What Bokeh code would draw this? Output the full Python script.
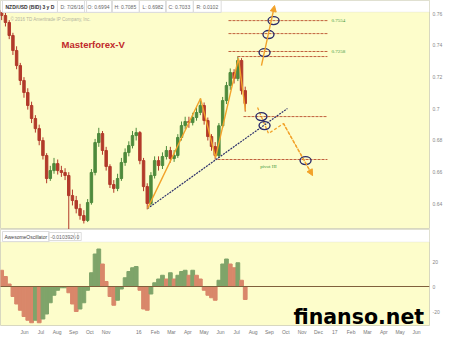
import pandas as pd
from bokeh.plotting import figure
from bokeh.layouts import column
from bokeh.models import Range1d, FixedTicker, Label, BoxAnnotation, Arrow, NormalHead, ColumnDataSource
from bokeh.embed import file_html
from bokeh.resources import INLINE

# ---------------- data (weekly) ----------------
week_start = "2015-04-19"
first_open = 0.7620
close = [0.7589, 0.7545, 0.7463, 0.7368, 0.7273, 0.7179, 0.7103, 0.7021, 0.6939, 0.6875,
         0.6800, 0.6705, 0.6560, 0.6610, 0.6654, 0.6610, 0.6598, 0.6579, 0.6452, 0.6421,
         0.6370, 0.6326, 0.6295, 0.6408, 0.6598, 0.6787, 0.6844, 0.6737, 0.6636, 0.6522,
         0.6497, 0.6560, 0.6661, 0.6724, 0.6768, 0.6831, 0.6850, 0.6673, 0.6509, 0.6402,
         0.6579, 0.6673, 0.6642, 0.6699, 0.6737, 0.6686, 0.6705, 0.6819, 0.6894, 0.6920,
         0.6913, 0.6945, 0.6977, 0.7021, 0.6926, 0.6825, 0.6762, 0.6705, 0.6893, 0.7052,
         0.7147, 0.7229, 0.7191, 0.7305, 0.7115, 0.7033]
high = [0.7650, 0.7610, 0.7560, 0.7480, 0.7395, 0.7290, 0.7200, 0.7130, 0.7045, 0.6960,
        0.6900, 0.6820, 0.6720, 0.6640, 0.6690, 0.6680, 0.6640, 0.6625, 0.6600, 0.6490,
        0.6450, 0.6400, 0.6360, 0.6430, 0.6620, 0.6810, 0.6880, 0.6860, 0.6760, 0.6650,
        0.6550, 0.6590, 0.6690, 0.6750, 0.6795, 0.6860, 0.6880, 0.6860, 0.6690, 0.6530,
        0.6600, 0.6700, 0.6700, 0.6725, 0.6765, 0.6760, 0.6740, 0.6840, 0.6920, 0.6950,
        0.6950, 0.6975, 0.7010, 0.7065, 0.7040, 0.6945, 0.6840, 0.6790, 0.6910, 0.7075,
        0.7170, 0.7255, 0.7250, 0.7330, 0.7320, 0.7140]
low = [0.7560, 0.7520, 0.7440, 0.7340, 0.7250, 0.7150, 0.7070, 0.6995, 0.6910, 0.6850,
       0.6770, 0.6680, 0.6530, 0.6545, 0.6590, 0.6585, 0.6570, 0.6550, 0.6130, 0.6390,
       0.6340, 0.6300, 0.6276, 0.6285, 0.6395, 0.6580, 0.6760, 0.6710, 0.6610, 0.6500,
       0.6470, 0.6480, 0.6545, 0.6640, 0.6700, 0.6750, 0.6800, 0.6650, 0.6480, 0.6365,
       0.6390, 0.6560, 0.6610, 0.6620, 0.6680, 0.6660, 0.6665, 0.6690, 0.6800, 0.6870,
       0.6880, 0.6895, 0.6925, 0.6960, 0.6900, 0.6800, 0.6735, 0.6680, 0.6690, 0.6880,
       0.7030, 0.7120, 0.7160, 0.7175, 0.7090, 0.6982]
ao = [13, 8, 2, -8, -14, -19, -24, -27, -29, -27,
      -29, -26, -22, -13, -7, -3, -1, -1, -5, -14,
      -20, -18, -13, -3, 11, 26, 30, 18, 4, -8,
      -15, -11, -2, 7, 12, 15, 16, -3, -18, -19,
      -6, 3, 6, 9, 6, 11, 6, 9, 12, 13,
      9, 13, 9, 6, -3, -7, -9, -11, 5, 18,
      22, 18, 15, 19, 5, -10.39]

price_ticks = [0.64, 0.66, 0.68, 0.7, 0.72, 0.74, 0.76]
price_tick_labels = ["0.64", "0.66", "0.68", "0.7", "0.72", "0.74", "0.76"]
ao_ticks = [-20, 0, 20]
ao_tick_labels = ["-20", "0", "20"]
month_ticks = [5, 6, 7, 8, 9, 10, 12, 13, 14, 15, 16, 17, 18, 19, 20, 21, 22, 23, 24, 25, 26, 27, 28, 29]
month_labels = ["Jun", "Jul", "Aug", "Sep", "Oct", "Nov", "16", "Feb", "Mar", "Apr", "May", "Jun",
                "Jul", "Aug", "Sep", "Oct", "Nov", "Dec", "17", "Feb", "Mar", "Apr", "May", "Jun"]

# annotation data (month index since Jan 2015, price)
res_levels = [0.7557, 0.7475, 0.7362, 0.7330]
res_start = [17.49, 17.49, 17.49, 18.04]
sup_levels = [0.6951, 0.6680]
sup_start = [18.41, 16.82]
level_end = 23.55
level_text = ["0.7554", "0.7258"]
level_text_x = [23.80, 23.80]
level_text_y = [0.7557, 0.7362]
pivot_text = "pivot III"
pivot_x, pivot_y = 19.94, 0.6636
zigzag_x = [12.53, 15.78, 16.70, 18.10, 18.53]
zigzag_y = [0.6370, 0.7065, 0.6692, 0.7318, 0.6989]
trend_x = [12.53, 21.10]
trend_y = [0.6370, 0.7002]
up_arrow = (19.51, 0.7273, 20.31, 0.7652)
down_x = [19.27, 19.94, 20.86, 22.64]
down_y = [0.7008, 0.6844, 0.6907, 0.6579]
circle_x = [20.25, 19.94, 19.70, 19.51, 19.70, 22.21]
circle_y = [0.7557, 0.7469, 0.7355, 0.6951, 0.6894, 0.6673]

header_items = [("NZD/USD (BID) 3 y D", 2), ("D: 7/26/16", 57), ("O: 0.6994", 84), ("H: 0.7085", 111),
                ("L: 0.6982", 139), ("C: 0.7033", 165), ("R: 0.0102", 193)]

# ---------------- derived ----------------
dates = pd.date_range(week_start, periods=len(close), freq="7D")
xm = list((dates.year - 2015) * 12 + dates.month - 1 + (dates.day - 1) / dates.days_in_month)
opens = [first_open] + close[:-1]
UP, DOWN = "#4e8a3c", "#b23a2a"
src = ColumnDataSource(dict(
    x=xm, hi=high, lo=low,
    top=[max(o, c) for o, c in zip(opens, close)],
    bot=[min(o, c) for o, c in zip(opens, close)],
    col=[UP if c >= o else DOWN for o, c in zip(opens, close)]))
ao_col = ["#7fa46a" if (i > 0 and v >= ao[i - 1]) else "#d9876a" for i, v in enumerate(ao)]
ao_src = ColumnDataSource(dict(x=xm, top=ao, col=ao_col))

BG = "#fdfdcb"
FONT = "Liberation Sans"
ORANGE = "#f2a22a"
xr = Range1d(3.53, 29.8)


def style_axis(ax, color):
    ax.axis_line_color = None
    ax.major_tick_line_color = None
    ax.minor_tick_line_color = None
    ax.major_tick_out = 0
    ax.minor_tick_out = 0
    ax.major_tick_in = 0
    ax.minor_tick_in = 0
    ax.major_label_text_font_size = "5px"
    ax.major_label_text_color = color
    ax.major_label_text_font = FONT
    ax.major_label_standoff = 3


# ---------------- price panel ----------------
p = figure(width=450, height=229, x_range=xr, y_range=Range1d(0.6238, 0.7684),
           x_axis_location=None, y_axis_location="right", toolbar_location=None,
           output_backend="svg", min_border_left=0, min_border_right=21,
           min_border_top=0, min_border_bottom=0)
p.background_fill_color = BG
p.border_fill_color = "white"
p.outline_line_color = "#d8d8c0"
p.grid.visible = False
ya = p.yaxis[0]
ya.ticker = FixedTicker(ticks=price_ticks)
ya.major_label_overrides = dict(zip(price_ticks, price_tick_labels))
style_axis(ya, "#888888")

p.segment("x", "hi", "x", "lo", source=src, line_color="col", line_width=1)
p.vbar(x="x", width=0.15, top="top", bottom="bot", source=src, fill_color="col", line_color="col")

p.segment(x0=res_start, y0=res_levels, x1=[level_end] * len(res_levels), y1=res_levels,
          line_color="#c0603c", line_width=1, line_dash="3 1")
p.segment(x0=sup_start, y0=sup_levels, x1=[level_end] * len(sup_levels), y1=sup_levels,
          line_color="#c0603c", line_width=1, line_dash="3 1")
p.text(x=level_text_x, y=level_text_y, text=level_text, text_font_size="5px",
       text_color="#3d9a3d", text_baseline="middle", text_font=FONT)
p.text(x=[pivot_x], y=[pivot_y], text=[pivot_text], text_font_size="5px",
       text_color="#3d9a3d", text_baseline="middle", text_align="center", text_font=FONT)

p.line(trend_x, trend_y, line_color="#2b2f6b", line_width=1.2, line_dash="2 1")
p.line(zigzag_x, zigzag_y, line_color=ORANGE, line_width=1.4)
p.line(down_x, down_y, line_color=ORANGE, line_width=1.3, line_dash="3 2")
p.ellipse(x=circle_x, y=circle_y, width=11, height=8, width_units="screen", height_units="screen",
          fill_color=None, line_color="#2c2c6a", line_width=1.4)

p.add_layout(BoxAnnotation(bottom=0.7611, fill_color="white", fill_alpha=1,
                           line_color="#d6d6d6", line_width=1))
p.add_layout(Arrow(end=NormalHead(size=6, fill_color=ORANGE, line_color=ORANGE),
                   x_start=up_arrow[0], y_start=up_arrow[1], x_end=up_arrow[2], y_end=up_arrow[3],
                   line_color=ORANGE, line_width=1.4))
p.add_layout(Arrow(end=NormalHead(size=6, fill_color=ORANGE, line_color=ORANGE),
                   x_start=down_x[-2], y_start=down_y[-2], x_end=down_x[-1], y_end=down_y[-1],
                   line_color=ORANGE, line_width=1.3, line_dash="3 2"))

for i, (t, x0) in enumerate(header_items):
    p.add_layout(Label(x=x0, y=223, x_units="screen", y_units="screen", text=t,
                       text_font_size="5px", text_color="#333333" if i == 0 else "#666666",
                       text_font_style="bold" if i == 0 else "normal",
                       text_baseline="middle", text_font=FONT,
                       border_line_color="#dddddd", padding=3))
p.add_layout(Label(x=10, y=210, x_units="screen", y_units="screen",
                   text="\u00a9 2016 TD Ameritrade IP Company, Inc.", text_font_size="4.5px",
                   text_color="#b4b4a0", text_baseline="middle", text_font=FONT))
p.add_layout(Label(x=61, y=185, x_units="screen", y_units="screen", text="Masterforex-V",
                   text_font_size="9.5px", text_font_style="bold", text_color="#c0282a",
                   text_baseline="middle", text_font=FONT))

# ---------------- awesome oscillator panel ----------------
q = figure(width=450, height=108, x_range=xr, y_range=Range1d(-31.2, 45.6),
           y_axis_location="right", toolbar_location=None, output_backend="svg",
           min_border_left=0, min_border_right=21, min_border_top=0, min_border_bottom=12)
q.background_fill_color = BG
q.border_fill_color = "white"
q.outline_line_color = "#d8d8c0"
q.grid.visible = False
qa = q.yaxis[0]
qa.ticker = FixedTicker(ticks=ao_ticks)
qa.major_label_overrides = dict(zip(ao_ticks, ao_tick_labels))
style_axis(qa, "#888888")
xa = q.xaxis[0]
xa.ticker = FixedTicker(ticks=month_ticks)
xa.major_label_overrides = dict(zip(month_ticks, month_labels))
style_axis(xa, "#777777")

q.vbar(x="x", width=0.23, top="top", bottom=0, source=ao_src, fill_color="col", line_color="col")
q.segment(x0=[3.53], y0=[0], x1=[29.8], y1=[0], line_color="#80603c", line_width=1)

q.add_layout(BoxAnnotation(bottom=35.6, fill_color="white", fill_alpha=1,
                           line_color="#d6d6d6", line_width=1))
ao_header = [("AwesomeOscillator", 2, "#444444"), ("-0.0103926", 48, "#666666"), ("0", 74, "#666666")]
for t, x0, c in ao_header:
    q.add_layout(Label(x=x0, y=89, x_units="screen", y_units="screen", text=t,
                       text_font_size="5px", text_color=c, text_baseline="middle", text_font=FONT,
                       border_line_color="#dddddd", padding=2))
q.add_layout(Label(x=431, y=ao[-1], x_units="screen", y_units="data", text="-10.393",
                   text_font_size="4.5px", text_color="white", text_baseline="middle",
                   background_fill_color="#c0231f", text_font=FONT, padding=1))
q.add_layout(Label(x=293, y=9, x_units="screen", y_units="screen", text="finanso.net",
                   text_font_size="20.5px", text_font_style="bold", text_color="black",
                   text_font="DejaVu Sans", text_baseline="alphabetic"))

layout = column(p, q, spacing=0)
open("out.html", "w").write(file_html(layout, INLINE))
